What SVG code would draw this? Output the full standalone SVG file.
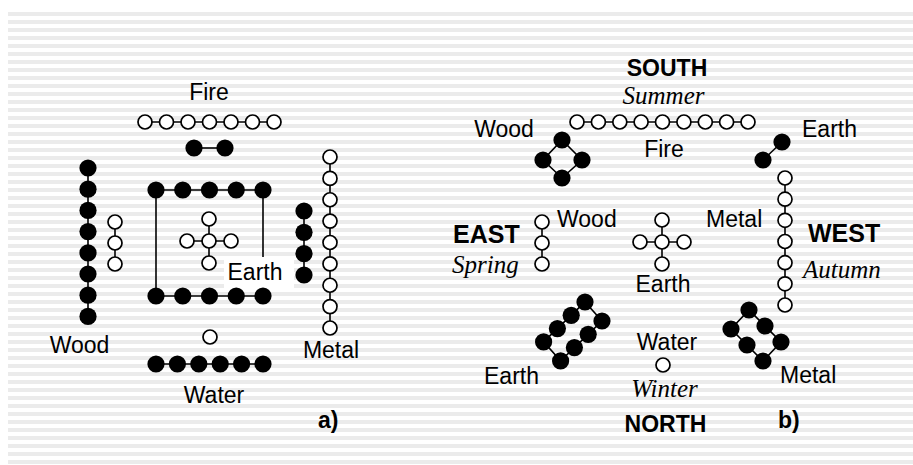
<svg xmlns="http://www.w3.org/2000/svg" width="913" height="465" viewBox="0 0 913 465">
<defs>
<pattern id="stripes" x="0" y="12" width="8" height="8" patternUnits="userSpaceOnUse">
<rect x="0" y="0" width="8" height="4" fill="#ebebeb"/>
</pattern>
<style>
.w{fill:#fff;stroke:#000;stroke-width:1.7}
.b{fill:#000;stroke:none}
.ln{stroke:#000;stroke-width:1.6;fill:none}
.t{font-family:"Liberation Sans",Arial,sans-serif;font-size:23px;fill:#000}
.bd{font-family:"Liberation Sans",Arial,sans-serif;font-size:23px;font-weight:bold;fill:#000}
.it{font-family:"Liberation Serif","Times New Roman",serif;font-size:25px;font-style:italic;fill:#000}
.mid{text-anchor:middle}
</style>
</defs>
<rect x="0" y="0" width="913" height="465" fill="#fff"/>
<rect x="8" y="12" width="905" height="452" fill="url(#stripes)"/>

<g id="connectors">
<line class="ln" x1="145" y1="122" x2="274" y2="122"/>
<line class="ln" x1="194" y1="148" x2="225" y2="148"/>
<line class="ln" x1="156" y1="190" x2="263" y2="190"/>
<line class="ln" x1="156" y1="296" x2="263" y2="296"/>
<line class="ln" x1="156" y1="190" x2="156" y2="296"/>
<line class="ln" x1="263" y1="190" x2="263" y2="258"/>
<line class="ln" x1="187" y1="241" x2="231" y2="241"/>
<line class="ln" x1="209" y1="219" x2="209" y2="263"/>
<line class="ln" x1="304" y1="211" x2="304" y2="275"/>
<line class="ln" x1="330" y1="157" x2="330" y2="328"/>
<line class="ln" x1="88" y1="168" x2="88" y2="316.4"/>
<line class="ln" x1="115" y1="222" x2="115" y2="264"/>
<line class="ln" x1="156" y1="364" x2="263" y2="364"/>
<line class="ln" x1="577" y1="122" x2="748" y2="122"/>
<polygon class="ln" points="562,140 582,160 562,178 543,160"/>
<line class="ln" x1="782" y1="142" x2="763" y2="160"/>
<line class="ln" x1="785" y1="178" x2="785" y2="305"/>
<line class="ln" x1="542" y1="222" x2="542" y2="264"/>
<line class="ln" x1="640" y1="242" x2="684" y2="242"/>
<line class="ln" x1="662" y1="220" x2="662" y2="264"/>
<polygon class="ln" points="585,302 602,321 560.6,360.9 543.6,341.9"/>
<polygon class="ln" points="749,310 781,342 763,361 731,329"/>
</g>

<rect x="224" y="257" width="70" height="31" fill="#fff"/>

<g id="a-fire">
<text class="t mid" x="209" y="100">Fire</text>
<circle class="w" cx="145" cy="122" r="7"/>
<circle class="w" cx="166.5" cy="122" r="7"/>
<circle class="w" cx="188" cy="122" r="7"/>
<circle class="w" cx="209.5" cy="122" r="7"/>
<circle class="w" cx="231" cy="122" r="7"/>
<circle class="w" cx="252.5" cy="122" r="7"/>
<circle class="w" cx="274" cy="122" r="7"/>
<circle class="b" cx="194" cy="148" r="8.6"/>
<circle class="b" cx="225" cy="148" r="8.6"/>
</g>

<g id="a-earth">
<circle class="b" cx="156" cy="190" r="8.6"/>
<circle class="b" cx="182.75" cy="190" r="8.6"/>
<circle class="b" cx="209.5" cy="190" r="8.6"/>
<circle class="b" cx="236.25" cy="190" r="8.6"/>
<circle class="b" cx="263" cy="190" r="8.6"/>
<circle class="b" cx="156" cy="296" r="8.6"/>
<circle class="b" cx="182.75" cy="296" r="8.6"/>
<circle class="b" cx="209.5" cy="296" r="8.6"/>
<circle class="b" cx="236.25" cy="296" r="8.6"/>
<circle class="b" cx="263" cy="296" r="8.6"/>
<circle class="w" cx="209" cy="241" r="7"/>
<circle class="w" cx="209" cy="219" r="7"/>
<circle class="w" cx="209" cy="263" r="7"/>
<circle class="w" cx="187" cy="241" r="7"/>
<circle class="w" cx="231" cy="241" r="7"/>
<text class="t mid" x="255" y="280">Earth</text>
</g>

<g id="a-metal">
<circle class="b" cx="304" cy="211" r="8.6"/>
<circle class="b" cx="304" cy="232.3" r="8.6"/>
<circle class="b" cx="304" cy="253.6" r="8.6"/>
<circle class="b" cx="304" cy="275" r="8.6"/>
<circle class="w" cx="330" cy="157" r="7"/>
<circle class="w" cx="330" cy="178.4" r="7"/>
<circle class="w" cx="330" cy="199.75" r="7"/>
<circle class="w" cx="330" cy="221.1" r="7"/>
<circle class="w" cx="330" cy="242.5" r="7"/>
<circle class="w" cx="330" cy="263.9" r="7"/>
<circle class="w" cx="330" cy="285.25" r="7"/>
<circle class="w" cx="330" cy="306.6" r="7"/>
<circle class="w" cx="330" cy="328" r="7"/>
<text class="t mid" x="331" y="358">Metal</text>
</g>

<g id="a-wood">
<circle class="b" cx="88" cy="168" r="8.6"/>
<circle class="b" cx="88" cy="189.2" r="8.6"/>
<circle class="b" cx="88" cy="210.4" r="8.6"/>
<circle class="b" cx="88" cy="231.6" r="8.6"/>
<circle class="b" cx="88" cy="252.8" r="8.6"/>
<circle class="b" cx="88" cy="274" r="8.6"/>
<circle class="b" cx="88" cy="295.2" r="8.6"/>
<circle class="b" cx="88" cy="316.4" r="8.6"/>
<circle class="w" cx="115" cy="222" r="7"/>
<circle class="w" cx="115" cy="243" r="7"/>
<circle class="w" cx="115" cy="264" r="7"/>
<text class="t mid" x="79.5" y="353">Wood</text>
</g>

<g id="a-water">
<circle class="w" cx="210" cy="337" r="7"/>
<circle class="b" cx="156" cy="364" r="8.6"/>
<circle class="b" cx="177.4" cy="364" r="8.6"/>
<circle class="b" cx="198.8" cy="364" r="8.6"/>
<circle class="b" cx="220.2" cy="364" r="8.6"/>
<circle class="b" cx="241.6" cy="364" r="8.6"/>
<circle class="b" cx="263" cy="364" r="8.6"/>
<text class="t mid" x="214" y="403">Water</text>
</g>

<g id="a-label">
<text class="bd" x="318" y="428">a)</text>
</g>

<g id="b-south">
<text class="bd mid" x="667" y="76">SOUTH</text>
<text class="it mid" x="663.5" y="104">Summer</text>
<circle class="w" cx="577" cy="122" r="7"/>
<circle class="w" cx="598.4" cy="122" r="7"/>
<circle class="w" cx="619.8" cy="122" r="7"/>
<circle class="w" cx="641.1" cy="122" r="7"/>
<circle class="w" cx="662.5" cy="122" r="7"/>
<circle class="w" cx="683.9" cy="122" r="7"/>
<circle class="w" cx="705.3" cy="122" r="7"/>
<circle class="w" cx="726.6" cy="122" r="7"/>
<circle class="w" cx="748" cy="122" r="7"/>
<text class="t mid" x="664" y="157">Fire</text>
</g>

<g id="b-wood-se">
<text class="t mid" x="504" y="137">Wood</text>
<circle class="b" cx="562" cy="140" r="8.6"/>
<circle class="b" cx="543" cy="160" r="8.6"/>
<circle class="b" cx="582" cy="160" r="8.6"/>
<circle class="b" cx="562" cy="178" r="8.6"/>
</g>

<g id="b-earth-sw">
<circle class="b" cx="782" cy="142" r="8.6"/>
<circle class="b" cx="763" cy="160" r="8.6"/>
<text class="t" x="802" y="137">Earth</text>
</g>

<g id="b-west">
<text class="t" x="706" y="227">Metal</text>
<circle class="w" cx="785" cy="178" r="7"/>
<circle class="w" cx="785" cy="199.2" r="7"/>
<circle class="w" cx="785" cy="220.3" r="7"/>
<circle class="w" cx="785" cy="241.5" r="7"/>
<circle class="w" cx="785" cy="262.7" r="7"/>
<circle class="w" cx="785" cy="283.8" r="7"/>
<circle class="w" cx="785" cy="305" r="7"/>
<text class="bd" x="808" y="242" style="font-size:25px">WEST</text>
<text class="it" x="803" y="278">Autumn</text>
</g>

<g id="b-east">
<text class="bd" x="453" y="243" style="font-size:25px">EAST</text>
<text class="it" x="452" y="273">Spring</text>
<circle class="w" cx="542" cy="222" r="7"/>
<circle class="w" cx="542" cy="243" r="7"/>
<circle class="w" cx="542" cy="264" r="7"/>
<text class="t" x="557" y="227">Wood</text>
</g>

<g id="b-center">
<circle class="w" cx="662" cy="242" r="7"/>
<circle class="w" cx="662" cy="220" r="7"/>
<circle class="w" cx="662" cy="264" r="7"/>
<circle class="w" cx="640" cy="242" r="7"/>
<circle class="w" cx="684" cy="242" r="7"/>
<text class="t mid" x="663" y="292">Earth</text>
</g>

<g id="b-earth-ne">
<circle class="b" cx="585" cy="302" r="8.6"/>
<circle class="b" cx="571.2" cy="315.3" r="8.6"/>
<circle class="b" cx="557.4" cy="328.6" r="8.6"/>
<circle class="b" cx="543.6" cy="341.9" r="8.6"/>
<circle class="b" cx="602" cy="321" r="8.6"/>
<circle class="b" cx="588.2" cy="334.3" r="8.6"/>
<circle class="b" cx="574.4" cy="347.6" r="8.6"/>
<circle class="b" cx="560.6" cy="360.9" r="8.6"/>
<text class="t" x="484" y="384">Earth</text>
</g>

<g id="b-north">
<text class="t mid" x="667" y="350">Water</text>
<circle class="w" cx="663" cy="365" r="7"/>
<text class="it mid" x="664.5" y="397">Winter</text>
<text class="bd mid" x="665.5" y="432">NORTH</text>
</g>

<g id="b-metal-nw">
<circle class="b" cx="749" cy="310" r="8.6"/>
<circle class="b" cx="765" cy="326" r="8.6"/>
<circle class="b" cx="781" cy="342" r="8.6"/>
<circle class="b" cx="731" cy="329" r="8.6"/>
<circle class="b" cx="747" cy="345" r="8.6"/>
<circle class="b" cx="763" cy="361" r="8.6"/>
<text class="t" x="780" y="383">Metal</text>
</g>

<g id="b-label">
<text class="bd" x="778" y="428">b)</text>
</g>
</svg>
